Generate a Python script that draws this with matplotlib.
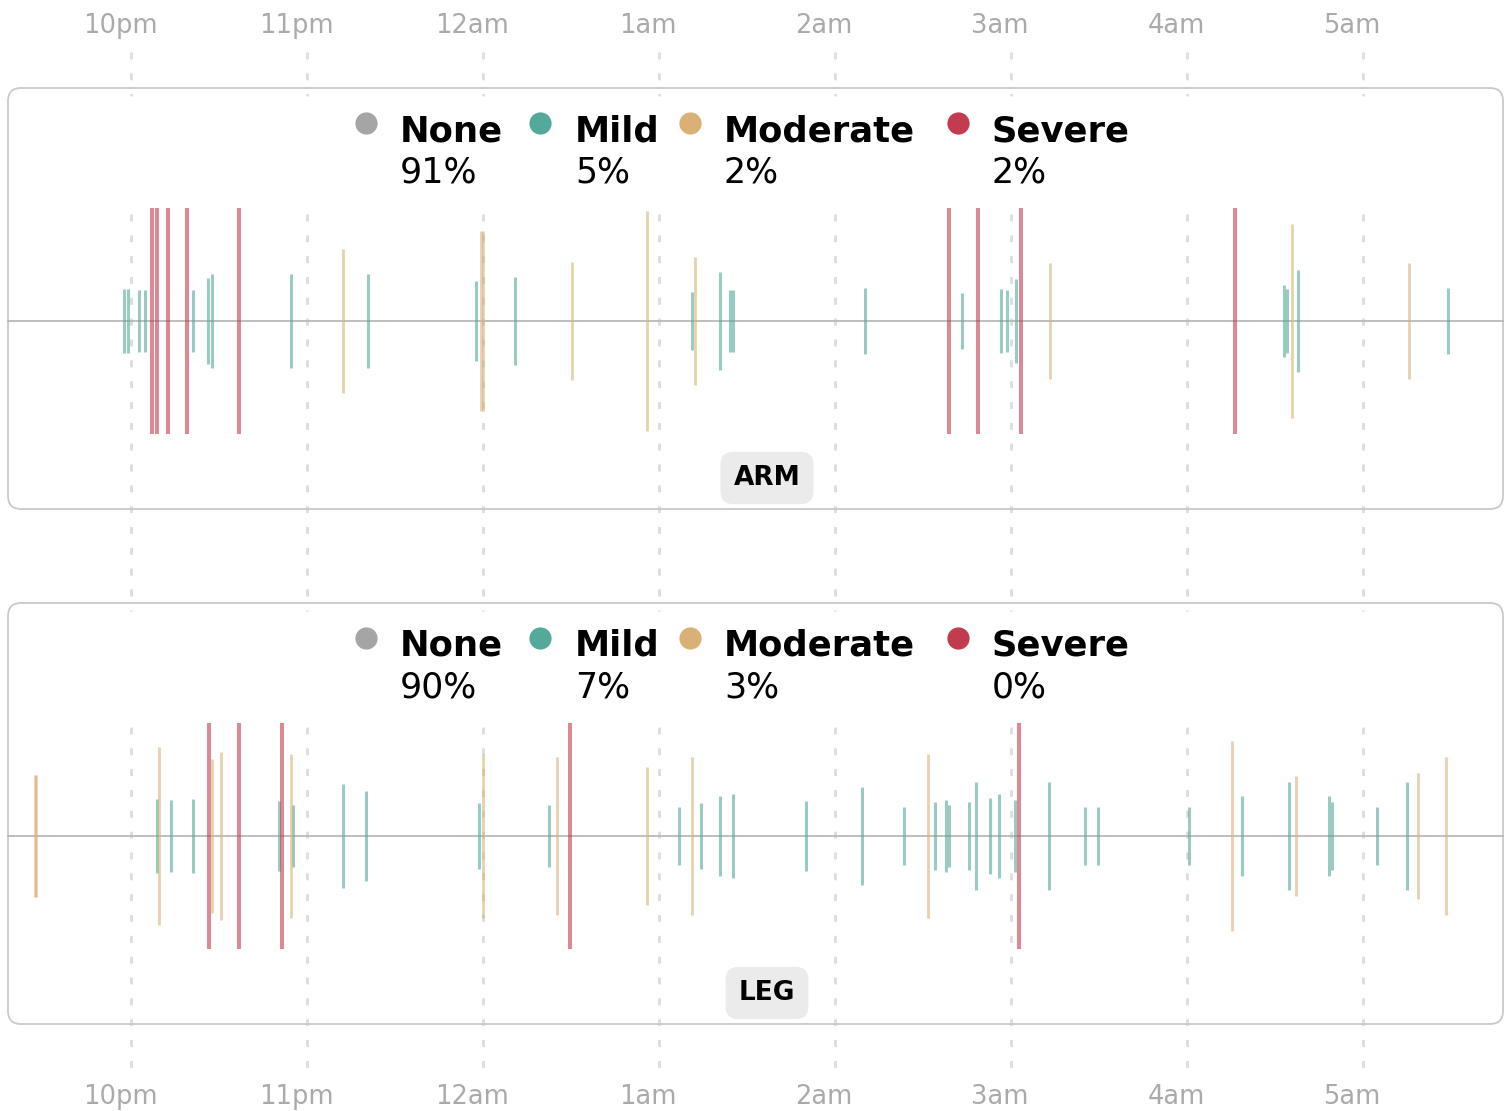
"""
Night-time twitch timeline for arm and leg sensors.

Two stacked panels share one time axis (10pm .. ~6am). Each event is a
vertical bar centred on the baseline; bar half-height = relative intensity.
"""

import matplotlib
matplotlib.use("Agg")
import matplotlib.pyplot as plt
from matplotlib.patches import FancyBboxPatch

plt.rcParams["font.family"] = ["DejaVu Sans"]
plt.rcParams["lines.scale_dashes"] = False

W, H, DPI = 1510, 1111, 100

# ---------------------------------------------------------------------------
# Data (time = hours after 10pm, size = half-height relative to a severe bar)
# ---------------------------------------------------------------------------

HOUR_TICKS = [0, 1, 2, 3, 4, 5, 6, 7]
HOUR_LABELS = ["10pm", "11pm", "12am", "1am", "2am", "3am", "4am", "5am"]

SEVERITY = ["None", "Mild", "Moderate", "Severe"]
DOT_COLORS = ["#a5a5a5", "#55a99a", "#d9b177", "#c23b4e"]

arm_pct = ["91%", "5%", "2%", "2%"]
leg_pct = ["90%", "7%", "3%", "0%"]

arm_mild_t = [-0.040, -0.017, 0.045, 0.080, 0.352, 0.438, 0.460, 0.909,
              1.347, 1.963, 2.182, 3.188, 3.347, 3.401, 3.420, 4.170,
              4.722, 4.941, 4.977, 5.028, 6.551, 6.566, 6.629, 7.483]
arm_mild_s = [0.28, 0.28, 0.27, 0.27, 0.27, 0.38, 0.42, 0.42,
              0.42, 0.35, 0.39, 0.26, 0.43, 0.27, 0.27, 0.29,
              0.25, 0.28, 0.27, 0.37, 0.32, 0.28, 0.45, 0.29]
arm_mod_t = [1.205, 1.989, 2.000, 2.506, 2.932, 3.202, 5.224, 6.594, 7.261]
arm_mod_s = [0.64, 0.80, 0.80, 0.52, 0.97, 0.57, 0.51, 0.86, 0.51]
arm_sev_t = [0.122, 0.145, 0.210, 0.318, 0.611, 4.646, 4.813, 5.057, 6.271]
arm_sev_s = [1.0, 1.0, 1.0, 1.0, 1.0, 1.0, 1.0, 1.0, 1.0]

leg_mild_t = [0.145, 0.225, 0.352, 0.841, 0.919, 1.205, 1.335, 1.977,
              2.375, 3.111, 3.239, 3.347, 3.420, 3.834, 4.156, 4.390,
              4.568, 4.631, 4.646, 4.761, 4.801, 4.878, 4.930, 5.021,
              5.214, 5.418, 5.494, 6.011, 6.310, 6.577, 6.807, 6.822,
              7.080, 7.250]
leg_mild_s = [0.33, 0.32, 0.33, 0.31, 0.27, 0.46, 0.40, 0.29,
              0.27, 0.26, 0.29, 0.35, 0.37, 0.31, 0.43, 0.26,
              0.30, 0.32, 0.27, 0.30, 0.48, 0.34, 0.37, 0.32,
              0.48, 0.26, 0.26, 0.26, 0.35, 0.48, 0.35, 0.30,
              0.26, 0.48]
leg_mod_t = [-0.548, -0.538, 0.159, 0.459, 0.509, 0.908, 2.000, 2.418,
             2.932, 3.188, 4.531, 6.256, 6.618, 7.313, 7.469]
leg_mod_s = [0.54, 0.54, 0.79, 0.68, 0.74, 0.73, 0.73, 0.70,
             0.61, 0.70, 0.73, 0.84, 0.53, 0.56, 0.70]
leg_sev_t = [0.445, 0.611, 0.856, 2.494, 5.045]
leg_sev_s = [1.0, 1.0, 1.0, 1.0, 1.0]

# ---------------------------------------------------------------------------
# Layout helpers (pixel positions measured from the top-left corner)
# ---------------------------------------------------------------------------

PX_PER_HOUR = 176.0
X_10PM = 131.0
T_LEFT = -X_10PM / PX_PER_HOUR
T_RIGHT = (W - X_10PM) / PX_PER_HOUR


def inch(x, y):
    """Pixel (from top-left) -> inches (from bottom-left)."""
    return x / DPI, (H - y) / DPI


def draw_panel(fig, bg, top, name, pct, mild, mod, sev):
    tr = fig.dpi_scale_trans

    # rounded frame
    x0, y0 = inch(8, top + 421)
    frame = FancyBboxPatch(
        (x0, y0), 1495 / DPI, 421 / DPI,
        boxstyle="round,pad=0,rounding_size=0.13",
        transform=tr, facecolor="none", edgecolor="#c9c9c9",
        linewidth=1.3, zorder=3,
    )
    bg.add_patch(frame)

    # legend: dot + bold label + percentage
    dot_x = [366, 540, 690, 958]
    txt_x = [400, 575, 724, 992]
    for lab, p, col, dx, tx in zip(SEVERITY, pct, DOT_COLORS, dot_x, txt_x):
        bg.plot(*inch(dx, top + 35), "o", ms=16, color=col, mec="none",
                transform=tr, zorder=4)
        fig.text(*inch(tx, top + 53), lab, transform=tr, fontsize=25.5,
                 fontweight="bold", va="baseline", ha="left")
        fig.text(*inch(tx, top + 94), p, transform=tr, fontsize=25,
                 va="baseline", ha="left")

    # badge
    fig.text(*inch(767, top + 390), name, transform=tr, fontsize=19,
             fontweight="bold", ha="center", va="center",
             bbox=dict(boxstyle="round,pad=0.5,rounding_size=0.5",
                       fc="#ebebeb", ec="none"))

    # event strip: ylim -1..1 maps onto +-113 px around the baseline
    centre = top + 233
    ax = fig.add_axes([0, (H - centre - 113) / H, 1, 226 / H])
    ax.set_xlim(T_LEFT, T_RIGHT)
    ax.set_ylim(-1, 1)
    ax.axis("off")
    ax.patch.set_alpha(0)
    ax.axhline(0, xmin=8 / W, xmax=1503 / W, color="#b4b4b4", lw=1.2,
               zorder=1)

    for (t, s), col, lw in zip((mild, mod, sev), DOT_COLORS[1:],
                               (2.2, 2.0, 2.9)):
        ax.vlines(t, [-v for v in s], s, colors=col, alpha=0.6,
                  linewidth=lw, zorder=2)
    return ax


# ---------------------------------------------------------------------------
# Figure
# ---------------------------------------------------------------------------

fig = plt.figure(figsize=(W / DPI, H / DPI), dpi=DPI)
bg = fig.add_axes([0, 0, 1, 1])
bg.set_xlim(T_LEFT, T_RIGHT)
bg.set_ylim(H, 0)          # y in pixels, top = 0
bg.axis("off")

# dashed hour gridlines (hidden behind each panel's legend strip)
for y_a, y_b in ((52, 96), (214, 611), (727, 1079)):
    bg.vlines(HOUR_TICKS, y_a, y_b, colors="#dcdcdc", linewidth=2.0,
              linestyles=[(0, (5, 10))], zorder=1)

# hour labels, top and bottom
for t, lab in zip(HOUR_TICKS, HOUR_LABELS):
    for y in (26, 1097):
        bg.annotate(lab, (t, y), xytext=(-11, 0), textcoords="offset pixels",
                    ha="center", va="center", fontsize=18.5, color="#aaaaaa")

draw_panel(fig, bg, 88, "ARM", arm_pct,
           (arm_mild_t, arm_mild_s), (arm_mod_t, arm_mod_s),
           (arm_sev_t, arm_sev_s))
draw_panel(fig, bg, 603, "LEG", leg_pct,
           (leg_mild_t, leg_mild_s), (leg_mod_t, leg_mod_s),
           (leg_sev_t, leg_sev_s))

fig.savefig("out.png", dpi=DPI)
plt.close(fig)
